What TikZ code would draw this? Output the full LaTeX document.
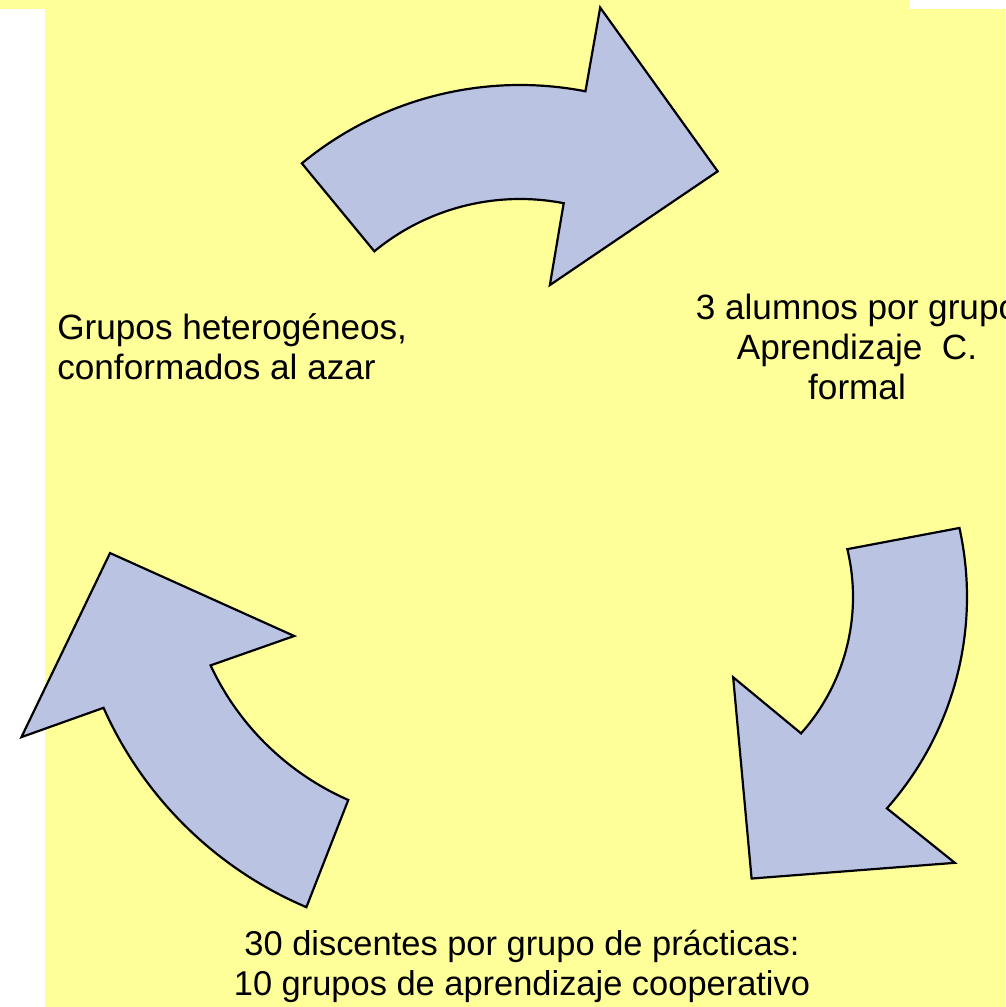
\documentclass[tikz,border=0pt]{standalone}
\usepackage{fontspec}
\setmainfont{Liberation Sans}
\usetikzlibrary{positioning}
\definecolor{paper}{HTML}{FFFF99}
\definecolor{arrowfill}{HTML}{BBC3E3}

\begin{document}
\begin{tikzpicture}[
    x=0.02cm, y=-0.02cm,
    bent/.style={fill=arrowfill, draw=black, line width=1.25pt, line join=miter},
    caption/.style={font=\fontsize{20}{22.8}\selectfont, inner sep=0}
  ]
  \clip (0,0) rectangle (1005,1007);
  \fill[paper] (0,0) rectangle (909,9);
  \fill[paper] (45,9) rectangle (1005,1007);

  % top arrow
  \draw[bent, shift={(520,428)}]
  (-129.5:343) arc[start angle=-129.5, end angle=-79, radius=343]
  -- (-79.2:428) -- (-52.4:324) -- (-78.2:146) -- (-79:229)
  arc[start angle=-79, end angle=-129.5, radius=229] -- cycle;

  % right arrow
  \draw[bent, shift={(648,597)}]
  (-12.5:319) arc[start angle=-12.5, end angle=41.5, radius=319]
  -- (40.9:406) -- (69.8:300) -- (43.3:117) -- (41.7:205)
  arc[start angle=41.7, end angle=-13.5, radius=205] -- cycle;

  % left arrow
  \draw[bent, shift={(458,550)}]
  (113:388) arc[start angle=113, end angle=156, radius=388]
  -- (156.8:475) -- (179.5:348) -- (152.3:185) -- (155:273)
  arc[start angle=155, end angle=113.7, radius=273] -- cycle;

  \node[caption, align=left, anchor=west] (grupos) at (57,347)
  {Grupos heterogéneos,\\conformados al azar};

  \node[caption, align=center] (alumnos) at (857,347)
  {3 alumnos por grupo\\Aprendizaje\ \ C.\\formal};

  \node[caption, align=center, font=\fontsize{19.6}{22.8}\selectfont] (discentes) at (522,966)
  {30 discentes por grupo de prácticas:\\10 grupos de aprendizaje cooperativo};
\end{tikzpicture}
\end{document}
